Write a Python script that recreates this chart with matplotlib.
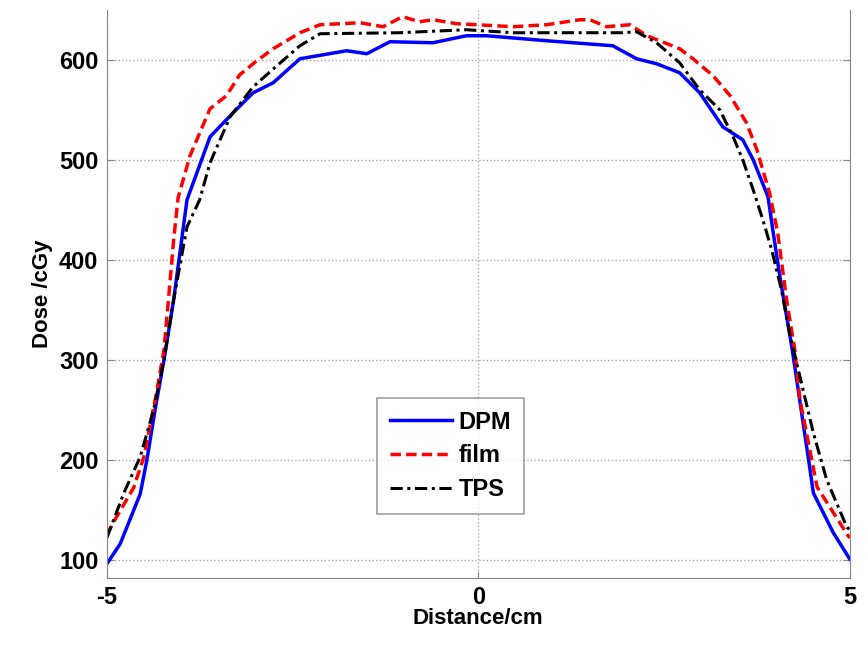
import matplotlib.pyplot as plt

plt.rcParams['font.family'] = ['Liberation Sans', 'DejaVu Sans']
plt.rcParams['axes.unicode_minus'] = False

# DPM (Monte Carlo) profile
dpm_x = [-5.0, -4.82, -4.55, -4.46, -4.35, -4.23, -4.1, -3.92, -3.61, -3.30, -3.03,
         -2.76, -2.40, -1.77, -1.50, -1.19, -0.61, -0.16, 0.11, 0.92, 1.81, 2.13,
         2.40, 2.71, 2.98, 3.29, 3.56, 3.70, 3.90, 3.97, 4.06, 4.22, 4.46, 4.51,
         4.78, 5.0]
dpm_y = [96, 116, 166, 200, 250, 300, 360, 460, 523, 547, 567,
         577, 601, 609, 606, 618, 617, 624, 624, 619, 614, 601,
         596, 587, 567, 533, 520, 500, 463, 427, 383, 313, 193, 167,
         127, 101]

# film measurement
film_x = [-5.0, -4.9, -4.64, -4.5, -4.33, -4.23, -4.17, -4.1, -4.04, -3.88, -3.61,
          -3.39, -3.21, -2.98, -2.76, -2.58, -2.40, -2.13, -1.59, -1.28, -1.02,
          -0.79, -0.61, -0.29, -0.02, 0.47, 0.92, 1.37, 1.50, 1.73, 2.04, 2.27,
          2.71, 2.89, 3.16, 3.39, 3.61, 3.75, 3.92, 4.03, 4.15, 4.26, 4.33, 4.56,
          4.97, 5.0]
film_y = [125, 139, 172, 203, 267, 310, 360, 420, 462, 504, 551,
          564, 585, 599, 611, 619, 627, 635, 637, 633, 643,
          638, 640, 636, 635, 633, 635, 640, 640, 633, 635, 624,
          611, 601, 584, 564, 537, 510, 467, 427, 360, 310, 260, 173,
          125, 122]

# TPS calculation
tps_x = [-5.0, -4.77, -4.55, -4.37, -4.23, -4.1, -3.92, -3.75, -3.61, -3.34, -3.03,
         -2.71, -2.40, -2.13, -1.06, -0.16, 0.47, 1.95, 2.13, 2.40, 2.71, 2.98,
         3.25, 3.43, 3.56, 3.70, 3.83, 3.95, 4.08, 4.19, 4.33, 4.51, 4.69, 4.96,
         5.0]
tps_y = [122, 167, 203, 250, 300, 360, 433, 460, 497, 543, 573,
         594, 614, 626, 627, 630, 627, 627, 628, 617, 597, 570,
         550, 523, 500, 470, 440, 410, 370, 327, 283, 227, 180, 133,
         130]

fig = plt.figure(figsize=(8.68, 6.48), dpi=100)
ax = fig.add_axes([0.123, 0.108, 0.856, 0.877])

ax.plot(dpm_x, dpm_y, color='#0000ff', linestyle='-', linewidth=2.5, label='DPM')
ax.plot(film_x, film_y, color='#ff0000', linestyle='--', linewidth=2.5,
        dashes=(3, 1.5), label='film')
ax.plot(tps_x, tps_y, color='black', linestyle='-.', linewidth=2.2,
        dashes=(4, 1.5, 1, 1.5), label='TPS')

ax.set_xlim(-5, 5)
ax.set_ylim(82, 650)
ax.set_xticks([-5, 0, 5])
ax.set_yticks([100, 200, 300, 400, 500, 600])
ax.grid(True, color='#aaaaaa', linestyle=':', linewidth=1)

ax.spines['top'].set_visible(False)
for s in ['left', 'right', 'bottom']:
    ax.spines[s].set_color('#888888')
ax.tick_params(direction='in', length=5, color='#888888', right=True,
               labelsize=17, pad=6)
for lbl in ax.get_xticklabels() + ax.get_yticklabels():
    lbl.set_fontweight('bold')

ax.set_xlabel('Distance/cm', fontsize=16, fontweight='bold', labelpad=-1)
ax.set_ylabel('Dose /cGy', fontsize=16, fontweight='bold', labelpad=4)

leg = ax.legend(loc='center', bbox_to_anchor=(0.463, 0.215), fancybox=False,
                edgecolor='#888888', prop={'size': 17, 'weight': 'bold'},
                handlelength=2.6, handletextpad=0.3, borderpad=0.55,
                labelspacing=0.45)
leg.get_frame().set_linewidth(1.2)

fig.savefig('out.png', dpi=100)
